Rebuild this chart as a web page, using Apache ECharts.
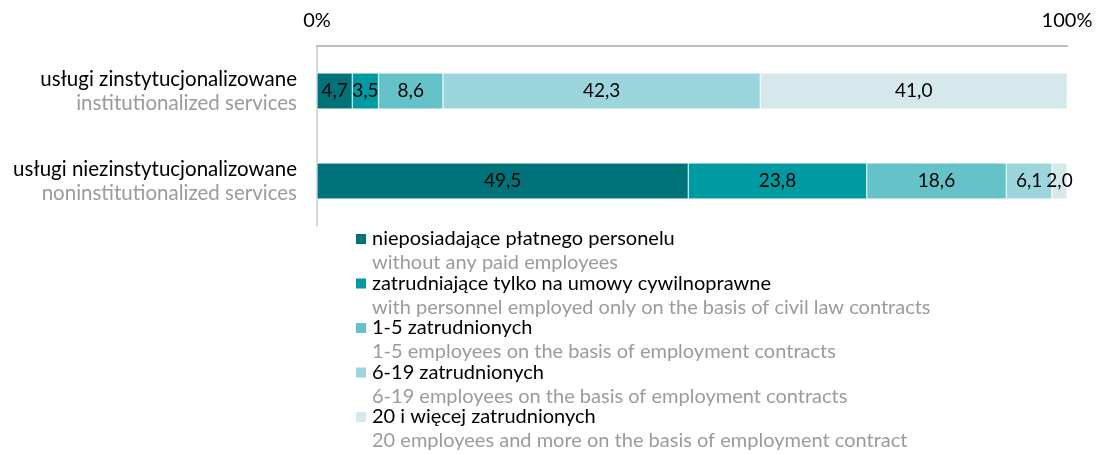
<!DOCTYPE html>
<html>
<head>
<meta charset="utf-8">
<script src="https://cdn.jsdelivr.net/npm/echarts@6/dist/echarts.min.js"></script>
<style>
  html, body { margin: 0; padding: 0; background: #fff; }
  #chart { width: 1098px; height: 455px; }
</style>
</head>
<body>
<div id="chart"></div>
<script>
// categories (Polish name + English subtitle)
const categoriesPl = ['usługi zinstytucjonalizowane', 'usługi niezinstytucjonalizowane'];
const categoriesEn = ['institutionalized services', 'noninstitutionalized services'];

// series names
const seriesPl = [
  'nieposiadające płatnego personelu',
  'zatrudniające tylko na umowy cywilnoprawne',
  '1-5 zatrudnionych',
  '6-19 zatrudnionych',
  '20 i więcej zatrudnionych'
];
const seriesEn = [
  'without any paid employees',
  'with personnel employed only on the basis of civil law contracts',
  '1-5 employees on the basis of employment contracts',
  '6-19 employees on the basis of employment contracts',
  '20 employees and more on the basis of employment contract'
];

// values (%), one per category
const noPaid = [4.7, 49.5];
const civilOnly = [3.5, 23.8];
const emp1to5 = [8.6, 18.6];
const emp6to19 = [42.3, 6.1];
const emp20plus = [41.0, 2.0];

const colors = ['#00737a', '#009aa3', '#66c2c9', '#9bd6dc', '#d5e9ec'];
const FONT = 'Lato';

const chart = echarts.init(document.getElementById('chart'));

const fmt = v => v.toFixed(1).replace('.', ',');

const seriesData = [noPaid, civilOnly, emp1to5, emp6to19, emp20plus];

const option = {
  animation: false,
  color: colors,
  textStyle: { fontFamily: FONT },
  grid: { left: 317, right: 31, top: 46, height: 180 },
  legend: {
    orient: 'vertical',
    left: 354,
    top: 229,
    padding: 0,
    itemWidth: 12,
    itemHeight: 12,
    itemGap: 0.5,
    icon: 'rect',
    selectedMode: false,
    data: seriesPl,
    formatter: name => {
      const i = seriesPl.indexOf(name);
      return '{a|' + name + '}\n{b|' + seriesEn[i] + '}';
    },
    textStyle: {
      padding: [24, 0, 0, 0],
      rich: {
        a: { fontFamily: FONT, fontSize: 20, color: '#000', lineHeight: 24 },
        b: { fontFamily: FONT, fontSize: 20, color: '#9b9b9b', lineHeight: 24 }
      }
    }
  },
  xAxis: {
    type: 'value',
    position: 'top',
    min: 0,
    max: 100,
    interval: 100,
    splitLine: { show: false },
    axisTick: { show: false },
    axisLine: { show: true, lineStyle: { color: '#bdbdbd', width: 2 } },
    axisLabel: {
      formatter: '{value}%',
      color: '#000',
      fontFamily: FONT,
      fontSize: 20,
      margin: 15
    }
  },
  yAxis: {
    type: 'category',
    inverse: true,
    data: categoriesPl,
    axisTick: { show: false },
    axisLine: { show: true, lineStyle: { color: '#d9d9d9', width: 2 } },
    axisLabel: {
      margin: 20,
      formatter: (v, i) => '{a|' + v + '}\n{b|' + categoriesEn[i] + '}',
      rich: {
        a: { fontFamily: FONT, fontSize: 20.5, color: '#000', lineHeight: 24, align: 'right' },
        b: { fontFamily: FONT, fontSize: 20.5, color: '#9b9b9b', lineHeight: 24, align: 'right' }
      }
    }
  },
  series: seriesData.map((d, i) => ({
    name: seriesPl[i],
    type: 'bar',
    stack: 'total',
    barWidth: 36,
    data: d,
    itemStyle: { borderColor: '#fff', borderWidth: 0.5 },
    label: {
      show: true,
      position: 'inside',
      color: '#000',
      fontFamily: FONT,
      fontSize: 19,
      formatter: p => fmt(p.value)
    }
  }))
};

chart.setOption(option);
</script>
</body>
</html>
